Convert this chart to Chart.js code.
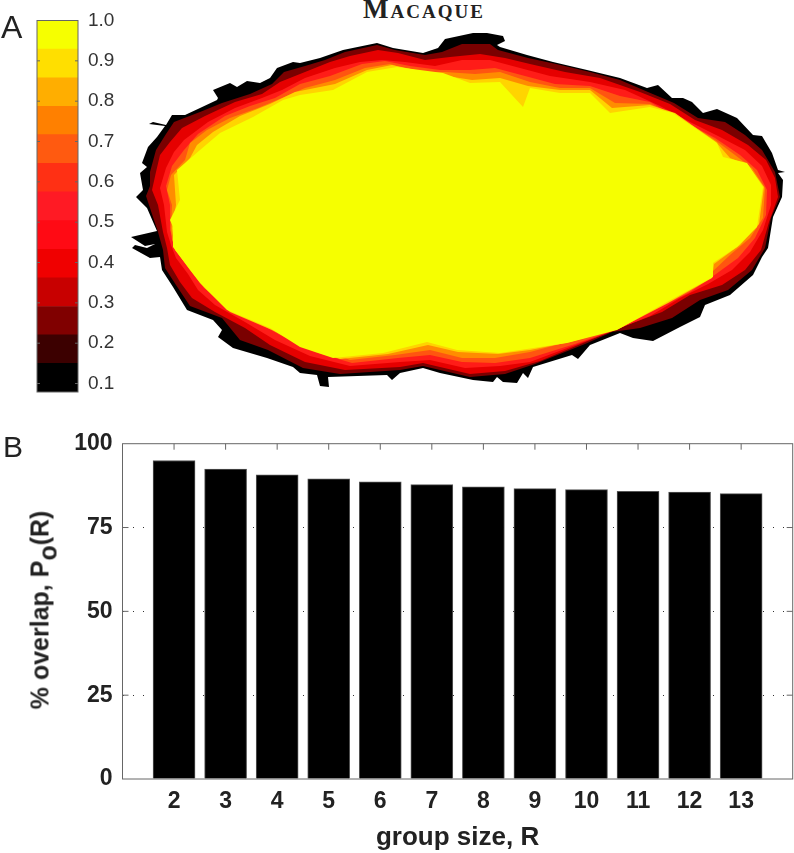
<!DOCTYPE html>
<html>
<head>
<meta charset="utf-8">
<title>Macaque</title>
<script src="https://cdn.jsdelivr.net/npm/chart.js@4"></script>
<style>
  html, body { margin: 0; padding: 0; background: #fff; }
  #page { position: relative; width: 794px; height: 853px; overflow: hidden; font-family: "Liberation Sans", sans-serif; }
  canvas { position: absolute; display: block; }
  .panel { position: absolute; color: #222; line-height: 1; }
  #title { position: absolute; left: 324px; top: -6px; width: 200px; text-align: center; font: bold 27px "Liberation Serif", serif; font-variant: small-caps; color: #222; letter-spacing: 2px; }
  #ylabel { position: absolute; left: 40px; top: 610px; transform: translate(-50%, -50%) rotate(-90deg); font: bold 25px "Liberation Sans", sans-serif; color: #222; white-space: nowrap; }
  #ylabel sub { font-size: 25px; line-height: 0; vertical-align: -8px; }
</style>
</head>
<body>
<div id="page">
  <canvas id="colorbar" width="120" height="410" style="left:0;top:0"></canvas>
  <canvas id="map" width="670" height="370" style="left:120px;top:25px"></canvas>
  <canvas id="bars" width="794" height="423" style="left:0;top:430px"></canvas>
  <div class="panel" style="left:1px;top:11px;font-size:32px">A</div>
  <div class="panel" style="left:3px;top:432px;font-size:30px">B</div>
  <div id="title">Macaque</div>
  <div id="ylabel">% overlap, P<sub>o</sub>(R)</div>
</div>
<script>
// Panel A colour key: band edges and colours, bottom to top
const bandEdges = [0.079, 0.15, 0.221, 0.291, 0.362, 0.433, 0.504, 0.575, 0.646, 0.717, 0.787, 0.858, 0.929, 1.0];
const bandColors = ["#000000", "#3c0000", "#800000", "#c80000", "#f00000", "#ff0a14", "#ff1a24", "#ff3014", "#ff5a10", "#ff8000", "#ffae00", "#ffdf00", "#f6ff00"];
const keyTicks = [0.1, 0.2, 0.3, 0.4, 0.5, 0.6, 0.7, 0.8, 0.9, 1.0];

// Panel A contours, outermost first
const contourBlack = [[131,237],[157,231],[147,208],[136,197],[143,190],[140,173],[147,167],[142,163],[148,147],[157,137],[165,126],[149,124],[153,122],[166,125],[172,115],[185,115],[200,108],[217,100],[218,98],[213,90],[230,83],[237,87],[247,81],[260,83],[270,78],[277,68],[293,62],[300,63],[320,58],[343,50],[377,43],[393,48],[423,53],[438,48],[445,39],[473,33],[487,33],[503,36],[505,41],[497,45],[500,47],[527,55],[553,62],[587,70],[620,78],[647,88],[658,85],[672,98],[683,98],[692,102],[703,113],[717,109],[737,118],[753,135],[762,136],[772,153],[778,170],[785,172],[778,173],[783,180],[782,197],[773,217],[768,248],[762,257],[753,275],[730,295],[705,305],[700,317],[680,327],[653,341],[633,338],[620,333],[590,345],[578,359],[572,355],[533,367],[528,378],[523,373],[517,383],[503,382],[497,377],[493,382],[473,380],[440,373],[423,368],[400,373],[392,380],[387,375],[328,377],[329,387],[320,386],[317,375],[300,373],[293,367],[267,358],[233,348],[218,337],[222,330],[213,320],[187,310],[173,287],[162,270],[160,257],[150,258],[132,248],[135,245],[147,248],[155,244],[145,246]];
const contourMaroon = [[158,232],[150,208],[146,196],[150,186],[150,172],[156,150],[166,134],[174,122],[200,112],[222,103],[250,94],[272,84],[284,72],[305,66],[325,60],[345,52],[377,45],[395,50],[425,55],[442,52],[462,44],[490,44],[498,50],[528,58],[556,64],[590,72],[620,80],[648,92],[674,103],[698,118],[725,122],[745,135],[762,150],[775,172],[780,197],[771,218],[765,248],[752,270],[728,290],[700,300],[672,318],[640,328],[612,332],[585,344],[535,364],[505,374],[470,377],[440,370],[423,366],[400,370],[340,374],[303,368],[268,350],[240,340],[222,318],[190,306],[176,285],[165,268],[163,250]];
const contourRed = [[163,232],[158,205],[152,190],[156,172],[160,155],[170,142],[182,128],[205,116],[235,102],[262,94],[280,82],[305,72],[330,62],[350,56],[378,50],[398,53],[425,60],[450,57],[480,54],[505,58],[530,64],[565,72],[600,78],[640,92],[670,104],[695,120],[722,130],[748,145],[766,160],[775,178],[778,197],[769,222],[761,250],[745,270],[722,285],[690,295],[662,312],[630,324],[595,338],[540,361],[505,371],[470,374],[440,367],[423,363],[400,367],[345,370],[305,362],[270,345],[245,328],[215,312],[192,298],[180,282],[170,265],[167,248]];
const contourScarlet = [[167,232],[164,205],[160,188],[166,168],[174,152],[184,140],[208,122],[235,108],[262,98],[282,90],[305,78],[335,68],[360,62],[382,60],[405,62],[435,66],[462,60],[490,60],[520,68],[550,76],[590,82],[625,90],[660,106],[690,122],[718,136],[745,150],[762,166],[771,185],[771,205],[763,230],[750,252],[732,270],[708,284],[680,298],[650,316],[610,332],[570,347],[530,362],[500,366],[465,368],[430,360],[400,362],[350,366],[310,356],[275,340],[245,322],[215,305],[198,290],[188,274],[176,258],[171,245]];
const contourVermilion = [[170,230],[170,205],[166,186],[172,166],[184,150],[198,134],[225,116],[250,106],[275,98],[300,84],[330,76],[362,64],[385,61],[410,66],[440,70],[470,70],[495,68],[525,76],[555,84],[590,86],[620,96],[650,102],[685,122],[715,138],[740,155],[757,170],[767,190],[766,215],[755,238],[738,258],[716,274],[690,292],[655,310],[620,328],[575,344],[530,358],[495,363],[462,362],[430,355],[398,358],[352,363],[315,352],[280,335],[250,318],[220,300],[204,288],[192,272],[180,255],[174,242]];
const contourOrange = [[171,228],[172,205],[167,190],[171,175],[185,160],[190,143],[207,130],[230,118],[258,108],[282,98],[305,88],[335,80],[365,68],[390,64],[415,72],[445,72],[475,74],[500,72],[530,82],[560,88],[590,88],[615,103],[650,104],[680,118],[715,140],[735,155],[752,168],[765,188],[763,218],[750,238],[730,255],[712,272],[690,288],[660,304],[620,326],[575,340],[530,352],[495,358],[462,358],[430,350],[395,355],[350,360],[318,347],[285,332],[255,316],[222,298],[205,282],[190,266],[178,252],[172,240]];
const contourAmber = [[172,228],[176,205],[174,175],[190,158],[197,145],[213,132],[240,116],[270,104],[295,92],[335,84],[367,70],[392,65],[425,72],[447,76],[472,80],[500,78],[528,86],[560,90],[590,90],[612,108],[650,105],[675,113],[716,142],[730,158],[748,165],[764,187],[759,224],[740,245],[714,264],[712,278],[668,303],[620,328],[570,342],[530,350],[498,354],[458,352],[428,345],[388,354],[340,359],[305,347],[272,330],[230,312],[205,288],[192,272],[175,250]];
const contourYellow = [[173,227],[170,220],[180,200],[177,170],[200,150],[220,133],[253,117],[283,100],[300,95],[333,90],[367,72],[397,67],[443,73],[470,83],[500,82],[523,107],[530,88],[560,93],[590,93],[610,113],[650,107],[673,113],[717,143],[723,157],[747,163],[763,187],[757,227],[737,247],[713,263],[713,277],[667,302],[617,330],[567,343],[500,353],[457,350],[427,342],[383,353],[333,358],[300,347],[270,328],[227,310],[200,283],[190,270],[173,247]];
const contours = [contourBlack, contourMaroon, contourRed, contourScarlet, contourVermilion, contourOrange, contourAmber, contourYellow];
const contourColors = ["#000000", "#7a0000", "#e60000", "#ff1c18", "#ff5510", "#ff8c00", "#ffd400", "#f6ff00"];

// Panel B bars
const groupSizes = [2, 3, 4, 5, 6, 7, 8, 9, 10, 11, 12, 13];
const overlap = [95.0, 92.4, 90.7, 89.5, 88.6, 87.8, 87.1, 86.6, 86.3, 85.8, 85.6, 85.1];
const overlapTicks = [0, 25, 50, 75, 100];

const frameColor = "#666666";

// Draws the box around a plot and the short ticks pointing inward
const framePlugin = {
  id: "frame",
  afterDraw(chart, args, opts) {
    const { ctx, chartArea: a, scales } = chart;
    ctx.save();
    ctx.strokeStyle = frameColor;
    ctx.lineWidth = 1;
    ctx.strokeRect(a.left, a.top, a.right - a.left, a.bottom - a.top);
    ctx.beginPath();
    opts.yTicks.forEach((v) => {
      const y = scales.y.getPixelForValue(v);
      ctx.moveTo(a.left, y);
      ctx.lineTo(a.left + opts.len, y);
      ctx.moveTo(a.right, y);
      ctx.lineTo(a.right - opts.len, y);
    });
    (opts.xTicks || []).forEach((v) => {
      const x = scales.x.getPixelForValue(v);
      ctx.moveTo(x, a.top);
      ctx.lineTo(x, a.top + opts.len);
    });
    ctx.stroke();
    ctx.restore();
  },
};

// Colour key
new Chart(document.getElementById("colorbar"), {
  type: "bar",
  data: {
    labels: [""],
    datasets: bandColors.map((color, i) => ({
      data: [[bandEdges[i], bandEdges[i + 1]]],
      backgroundColor: color,
      grouped: false,
      barPercentage: 1,
      categoryPercentage: 1,
    })),
  },
  options: {
    responsive: false,
    animation: false,
    layout: { autoPadding: false, padding: { left: 37, top: 20.5, bottom: 18 } },
    plugins: {
      legend: { display: false },
      tooltip: { enabled: false },
      frame: { yTicks: keyTicks.slice(0, -1), len: 3 },
    },
    scales: {
      x: { display: false },
      y: {
        position: "right",
        min: bandEdges[0],
        max: 1,
        afterFit(scale) {
          scale.width = 42;
          scale.paddingTop = 0;
          scale.paddingBottom = 0;
        },
        afterBuildTicks(scale) { scale.ticks = keyTicks.map((v) => ({ value: v })); },
        grid: { display: false, drawTicks: false },
        border: { display: false },
        ticks: {
          padding: 10,
          color: "#333333",
          font: { family: "Liberation Sans", size: 19 },
          callback: (v) => v.toFixed(1),
        },
      },
    },
  },
  plugins: [framePlugin],
});

// Contour map
new Chart(document.getElementById("map"), {
  type: "scatter",
  data: {
    datasets: contours.map((points, i) => ({
      data: points,
      showLine: true,
      fill: "shape",
      backgroundColor: contourColors[i],
      borderWidth: 0,
      pointRadius: 0,
      order: contours.length - i,
    })),
  },
  options: {
    responsive: false,
    animation: false,
    layout: { autoPadding: false },
    plugins: { legend: { display: false }, tooltip: { enabled: false } },
    scales: {
      x: { display: false, min: 120, max: 790 },
      y: { display: false, min: 25, max: 395, reverse: true },
    },
  },
});

// Bar chart
new Chart(document.getElementById("bars"), {
  type: "bar",
  data: {
    datasets: [
      {
        data: groupSizes.map((r, i) => ({ x: r, y: overlap[i] })),
        backgroundColor: "#000000",
        borderColor: "#555555",
        borderWidth: 1,
        barThickness: 42,
      },
    ],
  },
  options: {
    responsive: false,
    animation: false,
    layout: { autoPadding: false, padding: { top: 13.7, right: 1.3 } },
    plugins: {
      legend: { display: false },
      tooltip: { enabled: false },
      frame: { yTicks: [25, 50, 75], xTicks: groupSizes, len: 6 },
    },
    scales: {
      x: {
        type: "linear",
        offset: false,
        min: 1,
        max: 14,
        afterFit(scale) {
          scale.height = 74;
          scale.paddingLeft = 0;
          scale.paddingRight = 0;
        },
        afterBuildTicks(scale) { scale.ticks = groupSizes.map((v) => ({ value: v })); },
        grid: { display: false, drawTicks: false },
        border: { display: false },
        ticks: {
          padding: 9,
          maxRotation: 0,
          color: "#222222",
          font: { family: "Liberation Sans", size: 23, weight: "bold" },
        },
        title: {
          display: true,
          text: "group size, R",
          color: "#222222",
          font: { family: "Liberation Sans", size: 26, weight: "bold" },
          padding: { top: 3, bottom: 0 },
        },
      },
      y: {
        min: 0,
        max: 100,
        afterFit(scale) {
          scale.width = 122.5;
          scale.paddingTop = 0;
          scale.paddingBottom = 0;
        },
        afterBuildTicks(scale) { scale.ticks = overlapTicks.map((v) => ({ value: v })); },
        grid: {
          drawTicks: false,
          color: (c) => (c.tick.value === 0 || c.tick.value === 100 ? "transparent" : "#333333"),
        },
        border: { display: false, dash: [1, 9] },
        ticks: {
          padding: 10,
          color: "#222222",
          font: { family: "Liberation Sans", size: 23, weight: "bold" },
        },
      },
    },
  },
  plugins: [framePlugin],
});
</script>
</body>
</html>
